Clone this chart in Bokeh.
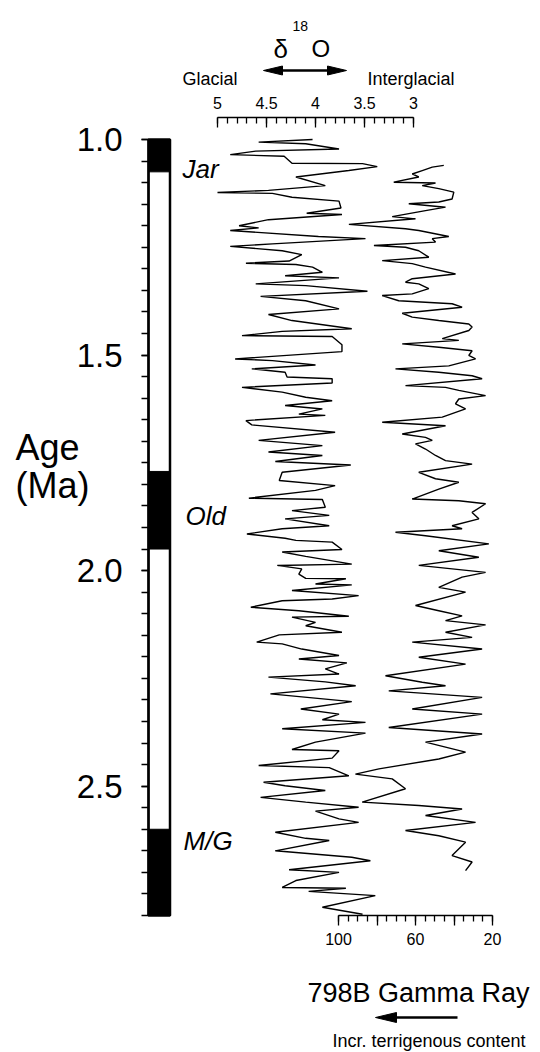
from bokeh.plotting import figure
from bokeh.models import (Range1d, LinearAxis, FixedTicker, Label,
                          PrintfTickFormatter, CustomJSTickFormatter)
from bokeh.embed import file_html
from bokeh.resources import INLINE

# ---------------- data ----------------
d18o_age = [1.000, 1.006, 1.010, 1.022, 1.027, 1.035, 1.039, 1.055, 1.056, 1.063,
            1.072, 1.087, 1.107, 1.118, 1.123, 1.125, 1.134, 1.143, 1.159, 1.171,
            1.174, 1.186, 1.200, 1.205, 1.211, 1.225, 1.230, 1.242, 1.248, 1.258,
            1.267, 1.282, 1.287, 1.290, 1.296, 1.308, 1.316, 1.321, 1.335, 1.339,
            1.352, 1.364, 1.374, 1.393, 1.406, 1.420, 1.439,
            1.445, 1.455, 1.457, 1.476, 1.492, 1.509, 1.513, 1.523, 1.532, 1.540,
            1.551, 1.555, 1.565, 1.575, 1.586, 1.598, 1.606, 1.617, 1.625, 1.637,
            1.640, 1.652, 1.662, 1.679, 1.698, 1.710, 1.725, 1.733, 1.747, 1.755,
            1.772, 1.791, 1.803, 1.814, 1.832, 1.835, 1.853, 1.861, 1.872, 1.880,
            1.896, 1.903,
            1.915, 1.925, 1.930, 1.934, 1.951, 1.957, 1.967, 1.985, 1.988, 1.996,
            2.008, 2.018, 2.019, 2.031, 2.033, 2.046, 2.058, 2.066, 2.070, 2.085,
            2.093, 2.106, 2.108, 2.120, 2.128, 2.143, 2.149, 2.166, 2.170, 2.182,
            2.197, 2.205, 2.214, 2.228, 2.240, 2.247, 2.258, 2.267, 2.286, 2.304,
            2.321, 2.333, 2.346, 2.352, 2.367,
            2.377, 2.398, 2.415, 2.418, 2.435, 2.452, 2.457, 2.476, 2.491, 2.499,
            2.510, 2.526, 2.537, 2.549, 2.558, 2.576, 2.584, 2.607, 2.621, 2.626,
            2.650, 2.665, 2.673, 2.694, 2.700, 2.719, 2.735, 2.737, 2.744, 2.754,
            2.781, 2.797]
d18o_val = [4.03, 4.58, 4.10, 3.76, 4.61, 4.87, 4.32, 4.24, 3.52, 3.37,
            3.66, 4.20, 3.90, 4.48, 5.00, 4.44, 4.24, 3.76, 3.74, 4.09,
            3.73, 4.48, 4.78, 4.58, 4.87, 3.97, 3.49, 4.44, 4.87, 4.34,
            4.14, 4.27, 4.71, 4.20, 4.03, 3.93, 4.31, 3.76, 4.61, 4.10,
            3.47, 4.56, 4.10, 3.76, 4.48, 4.24, 3.63,
            4.34, 4.75, 3.83, 3.73, 3.73, 4.82, 4.44, 4.00, 4.65, 4.31,
            4.29, 3.83, 3.83, 4.75, 4.34, 4.10, 3.83, 4.31, 3.93, 4.17,
            3.90, 4.71, 4.65, 3.80, 4.58, 3.93, 4.48, 3.93, 4.41, 3.64,
            4.34, 4.37, 3.80, 4.00, 4.68, 3.93, 3.90, 4.24, 3.86, 4.31,
            3.86, 4.34,
            4.70, 4.31, 4.20, 3.83, 3.73, 4.34, 4.10, 3.63, 4.39, 4.14,
            4.17, 4.10, 3.69, 4.00, 3.63, 4.24, 3.56, 3.83, 4.34, 4.66,
            4.17, 3.66, 4.24, 4.00, 4.10, 3.73, 4.37, 4.60, 4.34, 4.14,
            3.76, 4.17, 3.68, 3.90, 3.76, 4.48, 3.90, 3.59, 4.46, 3.63,
            4.15, 3.76, 3.93, 3.49, 4.34,
            3.49, 4.00, 4.24, 3.76, 3.83, 4.58, 3.86, 3.66, 4.53, 4.31,
            3.90, 4.56, 4.10, 3.56, 4.00, 3.76, 3.56, 4.41, 4.10, 3.86,
            4.41, 3.63, 3.44, 4.27, 3.76, 4.20, 4.34, 3.69, 4.07, 3.39,
            3.93, 3.52]

gamma_age = [1.060, 1.064, 1.072, 1.080, 1.087, 1.099, 1.101, 1.107, 1.114, 1.122,
             1.138, 1.145, 1.149, 1.157, 1.165, 1.179, 1.184, 1.197, 1.207, 1.211,
             1.225, 1.230, 1.238, 1.246, 1.250, 1.258, 1.273, 1.281, 1.288, 1.296,
             1.312, 1.323, 1.331, 1.335, 1.346, 1.358, 1.362, 1.374, 1.381, 1.389,
             1.403, 1.412, 1.420, 1.428, 1.435,
             1.443, 1.462, 1.466, 1.474, 1.482, 1.490, 1.501, 1.509, 1.525, 1.532,
             1.540, 1.548, 1.555, 1.571, 1.575, 1.582, 1.594, 1.602, 1.613, 1.625,
             1.644, 1.656, 1.664, 1.683, 1.691, 1.698, 1.706, 1.718, 1.733, 1.745,
             1.753, 1.772, 1.787, 1.795, 1.811, 1.834, 1.838, 1.845, 1.865, 1.880,
             1.896, 1.903,
             1.911, 1.919, 1.938, 1.954, 1.969, 1.988, 2.004, 2.015, 2.039, 2.050,
             2.081, 2.093, 2.105, 2.116, 2.126, 2.143, 2.155, 2.166, 2.182, 2.201,
             2.217, 2.244, 2.259, 2.267, 2.279, 2.294, 2.321, 2.333, 2.364,
             2.379, 2.398, 2.421, 2.437, 2.460, 2.472, 2.483, 2.506, 2.537, 2.545,
             2.553, 2.568, 2.584, 2.603, 2.615, 2.630, 2.661, 2.676, 2.696]
gamma_val = [45.3, 51.3, 56.5, 61.7, 58.3, 71.3, 49.6, 56.5, 47.9, 40.1,
             41.0, 47.9, 63.5, 44.4, 54.8, 72.1, 60.0, 94.6, 65.2, 58.3,
             42.7, 51.3, 49.6, 81.6, 65.2, 58.3, 53.1, 77.3, 61.7, 54.8,
             39.2, 61.7, 65.2, 58.3, 53.1, 61.7, 77.3, 68.7, 41.0, 35.8,
             66.9, 61.7, 47.9, 32.3, 30.6,
             32.3, 46.1, 37.5, 66.9, 47.9, 30.6, 32.3, 28.8, 42.7, 70.4,
             47.9, 30.6, 25.4, 65.2, 44.4, 37.5, 23.6, 37.5, 39.2, 34.0,
             46.1, 77.3, 44.4, 66.9, 54.8, 51.3, 60.0, 54.8, 49.6, 44.4,
             30.6, 58.3, 49.6, 37.5, 47.9, 61.7, 37.5, 23.6, 30.6, 27.1,
             41.0, 35.8,
             70.4, 54.8, 21.9, 47.9, 27.1, 58.3, 23.6, 35.8, 47.9, 34.0,
             60.0, 47.9, 35.8, 44.4, 23.6, 44.4, 30.6, 61.7, 25.4, 58.3,
             34.0, 75.6, 56.5, 44.4, 73.9, 25.4, 61.7, 25.4, 73.9,
             25.4, 54.8, 34.0, 47.9, 79.0, 91.2, 72.1, 65.2, 87.7, 58.3,
             35.8, 54.8, 28.8, 65.2, 47.9, 34.0, 41.0, 30.6, 34.0]

column_top, column_base = 1.0, 2.8           # Ma, extent of the polarity column
normal_top = [1.00, 1.77, 2.60]               # normal-polarity intervals (Ma)
normal_base = [1.075, 1.95, 2.80]
event_labels = ["Jar", "Old", "M/G"]

age_ticks = [1.0, 1.5, 2.0, 2.5]
d18o_ticks = [5, 4.5, 4, 3.5, 3]
gamma_ticks = [100, 80, 60, 40, 20]
gamma_tick_labels = ["100", "", "60", "", "20"]

# ---------------- layout (pixels) ----------------
W, H = 540, 1052
AGE_PX, AGE1_Y = 431.1, 139        # px per Ma, canvas y of 1.0 Ma
D_PX, D5_X = 98.0, 217             # px per permil, canvas x of 5 permil
G_PX, G100_X = 1.925, 338          # px per API unit, canvas x of 100
COL_X, COL_W = 148, 21.5           # polarity column left edge and width
TOP_AXIS_Y = 117
FONT = "Liberation Sans"

age_at0 = 1.0 - AGE1_Y / AGE_PX
y_range = Range1d(start=age_at0 + H / AGE_PX, end=age_at0)
d_at0 = 5 + D5_X / D_PX
x_range = Range1d(start=d_at0, end=d_at0 - W / D_PX)
g_at0 = 100 + G100_X / G_PX

p = figure(width=W, height=H, x_range=x_range, y_range=y_range,
           output_backend="svg", toolbar_location=None,
           x_axis_location=None, y_axis_location=None,
           min_border=0, min_border_left=0, min_border_right=0,
           min_border_top=0, min_border_bottom=0,
           outline_line_color=None, background_fill_color="white",
           border_fill_color="white")
p.extra_x_ranges = {"gamma": Range1d(start=g_at0, end=g_at0 - W / G_PX),
                    "pol": Range1d(start=-COL_X / COL_W, end=(W - COL_X) / COL_W),
                    "px": Range1d(start=0, end=W)}
p.extra_y_ranges = {"px": Range1d(start=H, end=0)}
p.xgrid.visible = False
p.ygrid.visible = False

# polarity column
p.quad(left=0, right=1, top=column_top, bottom=column_base, x_range_name="pol",
       fill_color="white", line_color="black", line_width=2.5)
p.quad(left=0, right=1, top=normal_top, bottom=normal_base, x_range_name="pol",
       fill_color="black", line_color="black", line_width=1)

# curves
p.line(d18o_val, d18o_age, line_color="black", line_width=1.4)
p.line(gamma_val, gamma_age, x_range_name="gamma", line_color="black", line_width=1.4)

# age axis (at the polarity column's left edge)
yax = LinearAxis(x_range_name="pol", fixed_location=0,
                 ticker=FixedTicker(ticks=age_ticks,
                                    minor_ticks=[round(1.0 + 0.05 * i, 2) for i in range(37)]),
                 formatter=PrintfTickFormatter(format="%.1f"),
                 bounds=(column_top, column_base))
yax.axis_line_width = 2
yax.major_tick_out = 7
yax.major_tick_in = 0
yax.minor_tick_out = 7
yax.minor_tick_in = 0
yax.major_tick_line_width = 1.5
yax.minor_tick_line_width = 1.5
yax.major_label_text_font = FONT
yax.major_label_text_font_size = "33px"
yax.major_label_text_color = "black"
yax.major_label_standoff = 19
p.add_layout(yax, "left")

# d18O axis (top)
tax = LinearAxis(fixed_location=1.0 - (AGE1_Y - TOP_AXIS_Y) / AGE_PX,
                 ticker=FixedTicker(ticks=d18o_ticks,
                                    minor_ticks=[round(3.0 + 0.1 * i, 1) for i in range(21)]),
                 formatter=CustomJSTickFormatter(code="return tick.toString()"),
                 bounds=(3, 5))
tax.axis_line_width = 1.5
tax.major_tick_in = 10
tax.major_tick_out = 0
tax.minor_tick_in = 6
tax.minor_tick_out = 0
tax.major_tick_line_width = 1.3
tax.minor_tick_line_width = 1.3
tax.major_label_text_font = FONT
tax.major_label_text_font_size = "16px"
tax.major_label_text_color = "black"
tax.major_label_standoff = 9
p.add_layout(tax, "above")

# gamma axis (bottom, at the base of the record)
bax = LinearAxis(x_range_name="gamma", fixed_location=column_base,
                 ticker=FixedTicker(ticks=gamma_ticks,
                                    minor_ticks=[20 + 5 * i for i in range(17)]),
                 formatter=CustomJSTickFormatter(args=dict(t=gamma_ticks, l=gamma_tick_labels),
                                                 code="const i = t.indexOf(tick); return i >= 0 ? l[i] : ''"),
                 bounds=(20, 100))
bax.axis_line_width = 1.5
bax.major_tick_out = 10
bax.major_tick_in = 0
bax.minor_tick_out = 6
bax.minor_tick_in = 0
bax.major_tick_line_width = 1.3
bax.minor_tick_line_width = 1.3
bax.major_label_text_font = FONT
bax.major_label_text_font_size = "16px"
bax.major_label_text_color = "black"
bax.major_label_standoff = 8
p.add_layout(bax, "below")


def text(t, cx, cy, size, style="normal"):
    p.add_layout(Label(x=cx, y=cy, x_range_name="px", y_range_name="px",
                       text=t, text_font=FONT, text_font_size=f"{size}px",
                       text_font_style=style, text_align="left",
                       text_baseline="alphabetic", text_color="black"))


# titles / annotations
text("\u03b4", 273, 48, 26)
text("18", 292, 25, 14)
text("O", 311, 48, 24)
text("Glacial", 182, 78, 18)
text("Interglacial", 367, 78, 18)

text("Age", 15, 447, 36)
text("(Ma)", 15, 485, 36)

text(event_labels[0], 182, 168, 26, "italic")
text(event_labels[1], 185, 515, 26, "italic")
text(event_labels[2], 183, 840, 26, "italic")

text("798B Gamma Ray", 307, 992, 27)
text("Incr. terrigenous content", 332, 1040, 18)

# arrows (decoration, in pixel space)
p.segment(x0=[272, 392], y0=[70, 1017], x1=[338, 457], y1=[70, 1017],
          x_range_name="px", y_range_name="px", line_color="black", line_width=2.5)
p.patches(xs=[[263, 282, 282], [346, 327, 327], [375, 396, 396]],
          ys=[[70, 65.5, 74.5], [70, 65.5, 74.5], [1017, 1012, 1022]],
          x_range_name="px", y_range_name="px",
          fill_color="black", line_color="black", line_width=1)

open("out.html", "w").write(file_html(p, INLINE))
